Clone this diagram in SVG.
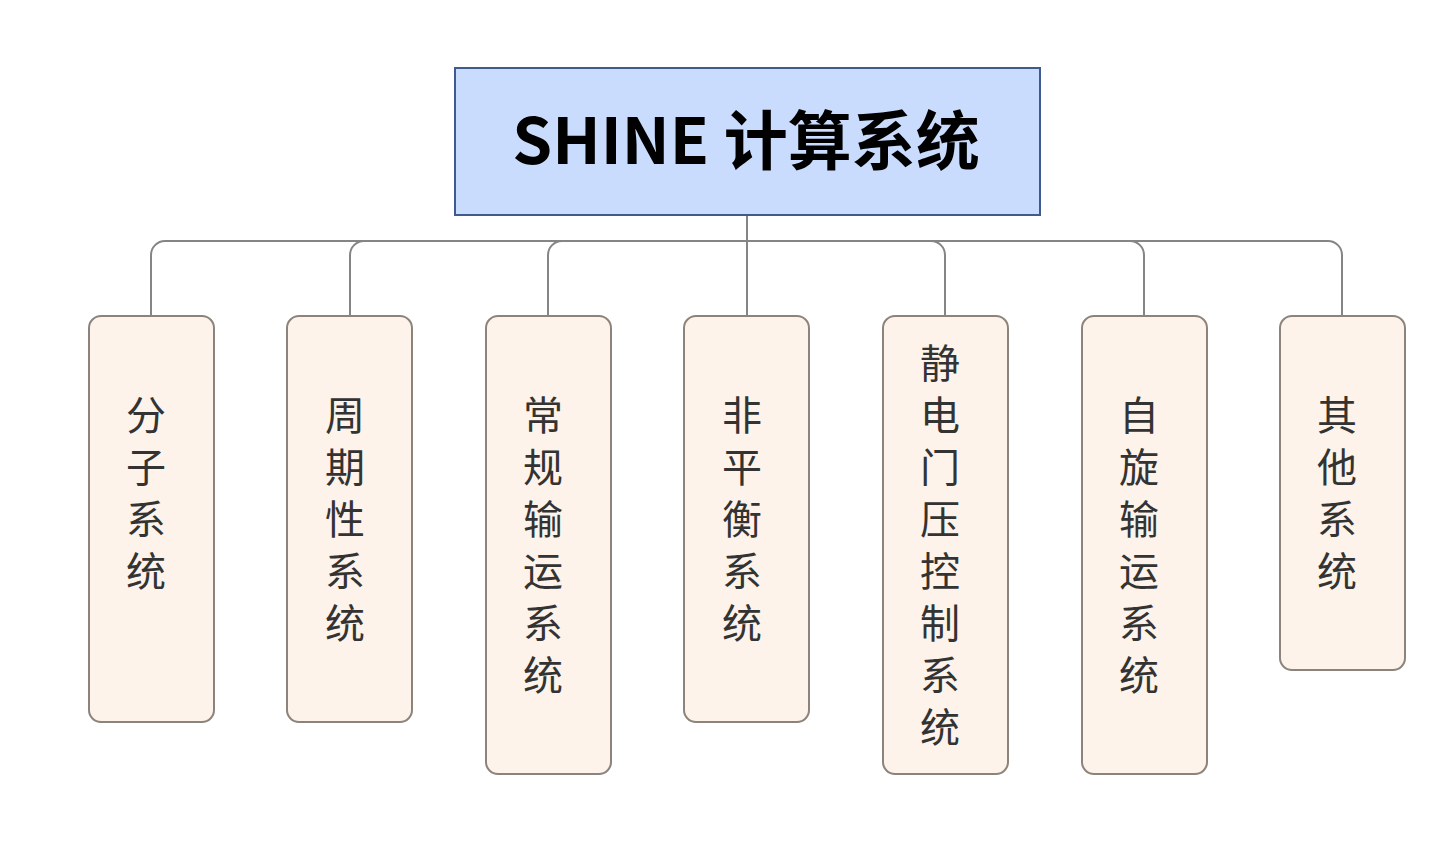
<svg xmlns="http://www.w3.org/2000/svg" width="1450" height="862" viewBox="0 0 1450 862">
<style>
.root{fill:#CADCFE;stroke:#3F5A8C;stroke-width:2}
.node{fill:#FDF3EA;stroke:#8C847C;stroke-width:2}
.conn{fill:none;stroke:#858585;stroke-width:2}
.t{font-family:"Noto Sans CJK SC","Noto Sans",sans-serif;font-size:40px;fill:#333333;writing-mode:vertical-rl;text-orientation:upright;letter-spacing:12px}
.title{font-family:"Noto Sans CJK SC","Noto Sans",sans-serif;font-size:64px;font-weight:bold;fill:#000000;text-anchor:middle}
</style>
<rect width="1450" height="862" fill="#FFFFFF"/>
<g id="connectors">
<path class="conn" d="M747,215 V316"/>
<path class="conn" d="M747,241 H165 A14,14 0 0 0 151,255 V316"/>
<path class="conn" d="M747,241 H364 A14,14 0 0 0 350,255 V316"/>
<path class="conn" d="M747,241 H562 A14,14 0 0 0 548,255 V316"/>
<path class="conn" d="M747,241 H931 A14,14 0 0 1 945,255 V316"/>
<path class="conn" d="M747,241 H1130 A14,14 0 0 1 1144,255 V316"/>
<path class="conn" d="M747,241 H1328 A14,14 0 0 1 1342,255 V316"/>
</g>
<g id="root">
<rect class="root" x="455" y="68" width="585" height="147"/>
<text class="title" x="746" y="164">SHINE 计算系统</text>
</g>
<g id="n1">
<rect class="node" x="89" y="316" width="125" height="406" rx="12"/>
<text class="t" x="146" y="395">分子系统</text>
</g>
<g id="n2">
<rect class="node" x="287" y="316" width="125" height="406" rx="12"/>
<text class="t" x="345" y="395">周期性系统</text>
</g>
<g id="n3">
<rect class="node" x="486" y="316" width="125" height="458" rx="12"/>
<text class="t" x="543" y="395">常规输运系统</text>
</g>
<g id="n4">
<rect class="node" x="684" y="316" width="125" height="406" rx="12"/>
<text class="t" x="742" y="395">非平衡系统</text>
</g>
<g id="n5">
<rect class="node" x="883" y="316" width="125" height="458" rx="12"/>
<text class="t" x="940" y="343">静电门压控制系统</text>
</g>
<g id="n6">
<rect class="node" x="1082" y="316" width="125" height="458" rx="12"/>
<text class="t" x="1139" y="395">自旋输运系统</text>
</g>
<g id="n7">
<rect class="node" x="1280" y="316" width="125" height="354" rx="12"/>
<text class="t" x="1337" y="395">其他系统</text>
</g>
</svg>
